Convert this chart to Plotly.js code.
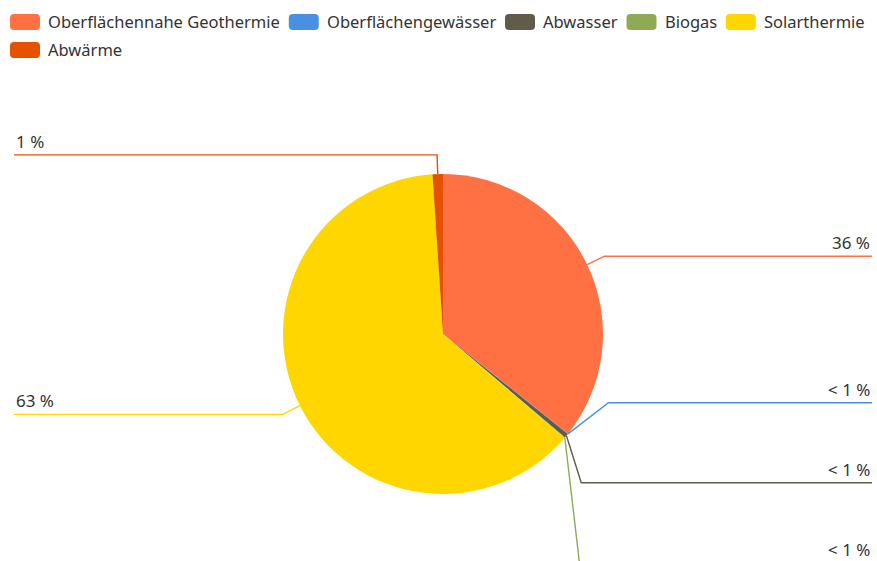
<!DOCTYPE html>
<html>
<head>
<meta charset="utf-8">
<script src="https://cdn.plot.ly/plotly-3.0.1.min.js"></script>
<style>html,body{margin:0;padding:0;background:#fff;}#chart{width:877px;height:561px;}</style>
</head>
<body>
<div id="chart"></div>
<script>
// ---- data ----
const categories = ["Oberflächennahe Geothermie", "Oberflächengewässer", "Abwasser", "Biogas", "Solarthermie", "Abwärme"];
const values = [35.7, 0.05, 0.45, 0.05, 62.7, 1.05];
const colors = ["#FF7043", "#4A90E2", "#615C4A", "#8FAA55", "#FFD600", "#E65100"];

// ---- geometry (pixels) ----
const W = 877, H = 561;
const CX = 443, CY = 334, R = 160;
const FONT = "Noto Sans, Open Sans, sans-serif";
const FS = 16.5;
const TXT = "#333333";

const px = x => x / W;
const py = y => 1 - y / H;

function labelText(v, total) {
  const p = v / total * 100;
  return p < 1 ? "< 1 %" : Math.round(p) + " %";
}

function build() {
  const total = values.reduce((a, b) => a + b, 0);
  const shapes = [], annotations = [];

  // ---- leader lines and labels ----
  let cum = 0;
  const items = values.map((v, i) => {
    const th = 2 * Math.PI * (cum + v / 2) / total;
    cum += v;
    const sx = CX + R * Math.sin(th), sy = CY - R * Math.cos(th);
    const ex = CX + 1.12 * R * Math.sin(th), ey = CY - 1.12 * R * Math.cos(th);
    return {i, sx, sy, rex: ex, ey, side: Math.sin(th) >= 0 ? "r" : "l"};
  });
  const GAP = 80, BOT = CY + 1.43 * R, TOP = CY - 1.43 * R;
  ["r", "l"].forEach(side => {
    const g = items.filter(o => o.side === side).sort((a, b) => a.ey - b.ey);
    for (let k = 1; k < g.length; k++) if (g[k].ey < g[k - 1].ey + GAP) g[k].ey = g[k - 1].ey + GAP;
    if (g.length && g[g.length - 1].ey > BOT) {
      g[g.length - 1].ey = BOT;
      for (let k = g.length - 2; k >= 0; k--) if (g[k].ey > g[k + 1].ey - GAP) g[k].ey = g[k + 1].ey - GAP;
    }
    if (g.length && g[0].ey < TOP) {
      g[0].ey = TOP;
      for (let k = 1; k < g.length; k++) if (g[k].ey < g[k - 1].ey + GAP) g[k].ey = g[k - 1].ey + GAP;
    }
  });
  const RR = 1.12 * R;
  items.forEach(o => {
    const dy = o.ey - CY;
    const c = Math.sqrt(Math.max(0, RR * RR - dy * dy));
    let ex, endX;
    if (o.side === "r") { ex = Math.max(o.rex, CX + c); endX = W - 5; }
    else { ex = Math.min(o.rex, CX - c); endX = 14; }
    shapes.push({
      type: "path", xref: "paper", yref: "paper",
      path: `M${px(o.sx)},${py(o.sy)} L${px(ex)},${py(o.ey)} L${px(endX)},${py(o.ey)}`,
      line: {color: colors[o.i], width: 1.4}
    });
    annotations.push({
      xref: "paper", yref: "paper", x: px(endX), y: py(o.ey),
      xanchor: o.side === "r" ? "right" : "left", yanchor: "bottom", yshift: 0,
      text: labelText(values[o.i], total), showarrow: false,
      font: {family: FONT, size: 17, color: TXT}
    });
  });

  // ---- legend (manual, rounded swatches) ----
  const ctx = document.createElement("canvas").getContext("2d");
  ctx.font = FS + "px " + FONT;
  const SW = 30, SH = 16, RAD = 4, TG = 6, IG = 11;
  let lx = 10, row = 0;
  categories.forEach((name, i) => {
    const tw = ctx.measureText(name).width;
    const w = SW + TG + tw;
    if (lx + w > W - 1 && lx > 10) { row++; lx = 10; }
    const yc = 22 + row * 28;
    const x0 = lx, x1 = lx + SW, y0 = yc - SH / 2, y1 = yc + SH / 2;
    const path = `M${px(x0 + RAD)},${py(y0)} L${px(x1 - RAD)},${py(y0)} Q${px(x1)},${py(y0)} ${px(x1)},${py(y0 + RAD)} ` +
      `L${px(x1)},${py(y1 - RAD)} Q${px(x1)},${py(y1)} ${px(x1 - RAD)},${py(y1)} L${px(x0 + RAD)},${py(y1)} ` +
      `Q${px(x0)},${py(y1)} ${px(x0)},${py(y1 - RAD)} L${px(x0)},${py(y0 + RAD)} Q${px(x0)},${py(y0)} ${px(x0 + RAD)},${py(y0)} Z`;
    shapes.push({type: "path", xref: "paper", yref: "paper", path, fillcolor: colors[i], line: {width: 0}});
    annotations.push({
      xref: "paper", yref: "paper", x: px(x1 + TG), y: py(yc), xanchor: "left", yanchor: "middle",
      text: name, showarrow: false, font: {family: FONT, size: FS, color: TXT}
    });
    lx += w + IG;
  });

  const trace = {
    type: "pie", labels: categories, values: values, sort: false,
    direction: "clockwise", rotation: 0, textinfo: "none", hoverinfo: "label+percent",
    marker: {colors: colors, line: {width: 0}},
    domain: {x: [px(CX - R), px(CX + R)], y: [py(CY + R), py(CY - R)]},
    showlegend: false
  };
  const layout = {
    width: W, height: H, margin: {l: 0, r: 0, t: 0, b: 0},
    paper_bgcolor: "#fff", showlegend: false,
    shapes, annotations
  };
  Plotly.newPlot("chart", [trace], layout, {displayModeBar: false, staticPlot: true});
}
(document.fonts ? document.fonts.ready : Promise.resolve()).then(build);
</script>
</body>
</html>
